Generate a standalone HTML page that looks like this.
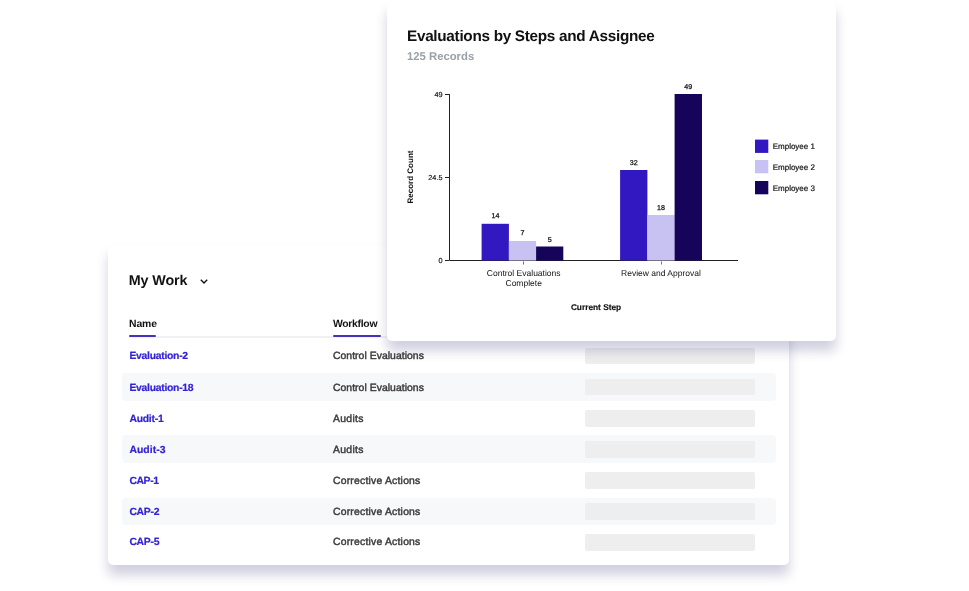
<!DOCTYPE html>
<html><head><meta charset="utf-8">
<style>
html,body{margin:0;padding:0;background:#fff;}
body{width:969px;height:591px;position:relative;overflow:hidden;font-family:"Liberation Sans",sans-serif;color:#111;text-rendering:geometricPrecision;}
.card{position:absolute;background:#fff;border-radius:5px;}
#tbl{left:108px;top:245px;width:681px;height:320px;box-shadow:0 10px 12px rgba(56,50,118,.23);}
#chart{left:387px;top:1px;width:449px;height:340px;box-shadow:0 10px 12px rgba(56,50,118,.23);}
.abs{position:absolute;white-space:nowrap;}
h1{margin:0;font-size:15px;font-weight:bold;position:absolute;white-space:nowrap;}
.row{position:absolute;left:14px;width:654px;height:27.4px;border-radius:4px;}
.row.alt{background:#f7f8fa;}
.row a{position:absolute;left:7.4px;top:1px;line-height:27.3px;font-size:10.4px;letter-spacing:-.28px;font-weight:bold;color:#3222d4;-webkit-text-stroke:.2px #3222d4;text-decoration:none;}
.row.up a,.row.up span{top:0;}
.row.dn a,.row.dn span{top:2px;}
.row span{position:absolute;left:211px;top:1px;line-height:27.3px;font-size:10.4px;letter-spacing:.04px;color:#3c3c3c;-webkit-text-stroke:.45px #3c3c3c;}
.row i{position:absolute;left:463px;top:5.5px;width:170px;height:16.7px;background:#eee;border-radius:2px;}
.th{position:absolute;font-size:10.4px;letter-spacing:-.12px;font-weight:bold;color:#111;}
</style></head><body>
<div class="card" id="tbl">
  <h1 style="left:20.800px;top:27.7px;font-size:14.3px;letter-spacing:-.1px">My Work</h1>
  <svg class="abs" style="left:91.400px;top:33.200px" width="10" height="7" viewBox="0 0 10 7"><path d="M1.800 1.700 L5 4.900 L8.200 1.700" fill="none" stroke="#111" stroke-width="1.400"/></svg>
  <div class="th" style="left:21px;top:74px;">Name</div>
  <div class="th" style="left:225px;top:74px;letter-spacing:-.3px">Workflow</div>
  <div class="abs" style="left:21px;top:91.2px;width:640px;height:1.8px;background:#f1f1f4;"></div>
  <div class="abs" style="left:21px;top:90.3px;width:27px;height:2px;border-radius:1px;background:#4434bc;"></div>
  <div class="abs" style="left:225px;top:90.3px;width:48px;height:2px;border-radius:1px;background:#4434bc;"></div>
  <div class="row" style="top:97.25px"><a>Evaluation-2</a><span>Control Evaluations</span><i></i></div>
  <div class="row alt dn" style="top:128.31px"><a>Evaluation-18</a><span>Control Evaluations</span><i></i></div>
  <div class="row dn" style="top:159.37px"><a style="letter-spacing:-.25px">Audit-1</a><span style="letter-spacing:.3px">Audits</span><i></i></div>
  <div class="row alt dn" style="top:190.43px"><a style="letter-spacing:.05px">Audit-3</a><span style="letter-spacing:.3px">Audits</span><i></i></div>
  <div class="row dn" style="top:221.49px"><a style="letter-spacing:-.4px">CAP-1</a><span style="letter-spacing:.21px">Corrective Actions</span><i></i></div>
  <div class="row alt" style="top:252.55px"><a>CAP-2</a><span style="letter-spacing:.21px">Corrective Actions</span><i></i></div>
  <div class="row up" style="top:283.61px"><a>CAP-5</a><span style="letter-spacing:.21px">Corrective Actions</span><i></i></div>
</div>
<div class="card" id="chart">
  <h1 style="left:20px;top:26.5px;font-size:15.3px;letter-spacing:-0.29px">Evaluations by Steps and Assignee</h1>
  <div class="abs" style="left:20px;top:50px;font-size:11.3px;letter-spacing:0;font-weight:bold;color:#9aa0a8;">125 Records</div>
  <svg class="abs" style="left:0;top:0" width="449" height="340" font-family="Liberation Sans, sans-serif">
    <g stroke="#222" stroke-width="1" fill="none">
      <path d="M62.5 93 V259.5 H351"/>
      <path d="M58 93.5 H62 M58 176.5 H62 M58 259.5 H62"/>
      <path d="M136.500 260.500 v3 M274.5 260.500 v3" stroke="#777"/>
    </g>
    <rect x="94.600" y="222.800" width="27.300" height="36.700" fill="#3118c0"/>
    <rect x="121.900" y="240" width="27.200" height="19.500" fill="#c7c2f2"/>
    <rect x="149.100" y="245.500" width="27.200" height="14" fill="#15045a"/>
    <rect x="233.100" y="169" width="27.300" height="90.500" fill="#3118c0"/>
    <rect x="260.300" y="214" width="27.400" height="45.500" fill="#c7c2f2"/>
    <rect x="287.600" y="93" width="27.400" height="166.500" fill="#15045a"/>
    <g font-size="7.100" fill="#111" stroke="#111" stroke-width="0.25" text-anchor="middle">
      <text x="108.500" y="217.200">14</text><text x="135.500" y="234.200">7</text><text x="162.700" y="241.400">5</text>
      <text x="246.700" y="163.800">32</text><text x="274" y="208.800">18</text><text x="301.300" y="88.200">49</text>
    </g>
    <g font-size="7.300" fill="#111" stroke="#111" stroke-width="0.15" text-anchor="end">
      <text x="55.500" y="96">49</text><text x="55.500" y="179">24.5</text><text x="55.500" y="262">0</text>
    </g>
    <g font-size="8.500" fill="#111" text-anchor="middle">
      <text x="136.700" y="274.900">Control Evaluations</text><text x="136.700" y="284.600">Complete</text>
      <text x="274" y="274.900">Review and Approval</text>
    </g>
    <text x="209" y="309" font-size="8.300" font-weight="bold" text-anchor="middle" fill="#111" stroke="#111" stroke-width="0.15">Current Step</text>
    <text transform="translate(26,176) rotate(-90)" font-size="8" font-weight="bold" text-anchor="middle" fill="#111">Record Count</text>
    <rect x="368" y="138.600" width="13.300" height="13.300" fill="#3118c0"/>
    <rect x="368" y="159" width="13.300" height="13.300" fill="#c7c2f2"/>
    <rect x="368" y="180" width="13.300" height="13.300" fill="#15045a"/>
    <g font-size="8" fill="#111" stroke="#111" stroke-width="0.2">
      <text x="385.700" y="148">Employee 1</text><text x="385.700" y="168.700">Employee 2</text><text x="385.700" y="189.700">Employee 3</text>
    </g>
  </svg>
</div>
</body></html>
